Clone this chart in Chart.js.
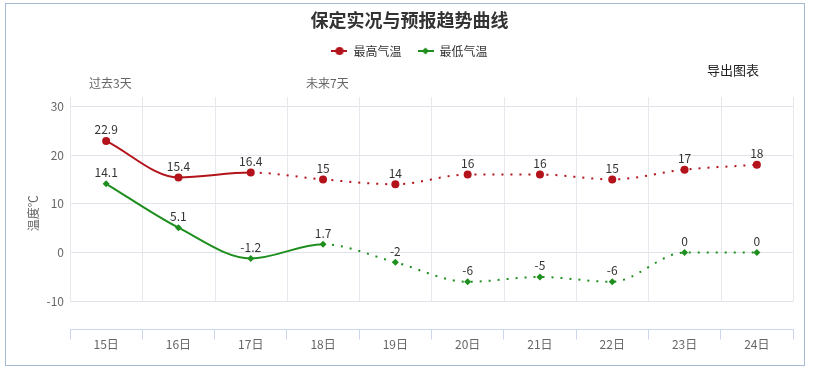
<!DOCTYPE html>
<html>
<head>
<meta charset="utf-8">
<script src="https://cdn.jsdelivr.net/npm/chart.js@4"></script>
<style>
  body { margin: 0; background: #fff; font-family: "Noto Sans CJK SC", "Liberation Sans", sans-serif; }
  #wrap { position: relative; width: 813px; height: 369px; }
  #frame { position: absolute; left: 5px; top: 3px; width: 798px; height: 361px; border: 1px solid #a3bad2; pointer-events: none; }
  .note { position: absolute; line-height: 1; white-space: nowrap; }
  #export { left: 707px; top: 63px; font-size: 13px; color: #222; }
  #past { left: 89px; top: 77px; font-size: 12px; color: #666; }
  #future { left: 306px; top: 77px; font-size: 12px; color: #666; }
</style>
</head>
<body>
<div id="wrap">
  <canvas id="tempChart" width="813" height="369"></canvas>
  <div id="frame"></div>
  <span class="note" id="export">导出图表</span>
  <span class="note" id="past">过去3天</span>
  <span class="note" id="future">未来7天</span>
</div>
<script>
// chart data
const days = ['15日', '16日', '17日', '18日', '19日', '20日', '21日', '22日', '23日', '24日'];
const highTemps = [22.9, 15.4, 16.4, 15, 14, 16, 16, 15, 17, 18];
const lowTemps = [14.1, 5.1, -1.2, 1.7, -2, -6, -5, -6, 0, 0];
const yTicks = [-10, 0, 10, 20, 30];

// last observed index for each series (dotted after that = forecast)
const highLastObserved = 2;
const lowLastObserved = 3;

const RED = '#b3141b';
const GREEN = '#1e8f1e';
const FONT = '"Noto Sans CJK SC", "Liberation Sans", sans-serif';

Chart.defaults.font.family = FONT;

// small line+marker images for the legend
function legendMarker(color, shape) {
  const c = document.createElement('canvas');
  c.width = 16;
  c.height = 10;
  const g = c.getContext('2d');
  g.strokeStyle = color;
  g.fillStyle = color;
  g.lineWidth = 2;
  g.beginPath();
  g.moveTo(0, 5);
  g.lineTo(16, 5);
  g.stroke();
  g.beginPath();
  if (shape === 'circle') {
    g.arc(8, 5, 4, 0, Math.PI * 2);
  } else {
    g.moveTo(8, 1.5); g.lineTo(11.5, 5); g.lineTo(8, 8.5); g.lineTo(4.5, 5); g.closePath();
  }
  g.fill();
  return c;
}

const dotted = idx => ctx => ctx.p0DataIndex >= idx ? [2, 7] : undefined;

// vertical grid lines between categories, down to -10 only
const columnLines = {
  id: 'columnLines',
  beforeDatasetsDraw(chart) {
    const { ctx, chartArea, scales: { x, y } } = chart;
    const step = x.getPixelForValue(1) - x.getPixelForValue(0);
    const bottom = y.getPixelForValue(yTicks[0]);
    ctx.save();
    ctx.strokeStyle = '#e6e8ee';
    ctx.lineWidth = 1;
    for (let i = 0; i <= days.length; i++) {
      const px = Math.round(x.getPixelForValue(0) - step / 2 + i * step) + 0.5;
      ctx.beginPath();
      ctx.moveTo(px, chartArea.top);
      ctx.lineTo(px, bottom);
      ctx.stroke();
    }
    ctx.restore();
  }
};

// value labels above each point
const valueLabels = {
  id: 'valueLabels',
  afterDatasetsDraw(chart) {
    const { ctx } = chart;
    ctx.save();
    ctx.font = '12px ' + FONT;
    ctx.fillStyle = '#333';
    ctx.textAlign = 'center';
    ctx.textBaseline = 'middle';
    chart.data.datasets.forEach((ds, di) => {
      chart.getDatasetMeta(di).data.forEach((pt, i) => {
        ctx.fillText(String(ds.data[i]), pt.x, pt.y - 11);
      });
    });
    ctx.restore();
  }
};

// make the legend box taller so the plot starts lower
const legendGap = {
  id: 'legendGap',
  afterInit(chart) {
    const lg = chart.legend;
    if (!lg) return;
    const fit = lg.fit;
    lg.fit = function () {
      fit.call(this);
      this.height = 68;
    };
  }
};

new Chart(document.getElementById('tempChart'), {
  type: 'line',
  data: {
    labels: days,
    datasets: [
      {
        label: '最高气温',
        data: highTemps,
        borderColor: RED,
        backgroundColor: RED,
        borderWidth: 2,
        cubicInterpolationMode: 'monotone',
        pointStyle: 'circle',
        pointRadius: 4,
        pointBorderWidth: 0,
        segment: { borderDash: dotted(highLastObserved) }
      },
      {
        label: '最低气温',
        data: lowTemps,
        borderColor: GREEN,
        backgroundColor: GREEN,
        borderWidth: 2,
        cubicInterpolationMode: 'monotone',
        pointStyle: 'rectRot',
        pointRadius: 3.5,
        pointBorderWidth: 0,
        segment: { borderDash: dotted(lowLastObserved) }
      }
    ]
  },
  options: {
    responsive: false,
    animation: false,
    layout: { padding: { left: 26, right: 20, top: 0, bottom: 19 } },
    plugins: {
      title: {
        display: true,
        text: '保定实况与预报趋势曲线',
        color: '#333',
        font: { size: 18, weight: 'bold', lineHeight: 1 },
        padding: { top: 11, bottom: 0 }
      },
      legend: {
        display: true,
        labels: {
          color: '#333',
          font: { size: 12 },
          usePointStyle: true,
          pointStyleWidth: 16,
          padding: 16,
          generateLabels(chart) {
            return chart.data.datasets.map((ds, i) => ({
              text: ds.label,
              pointStyle: legendMarker(ds.borderColor, i === 0 ? 'circle' : 'diamond'),
              fontColor: '#333',
              hidden: false,
              lineWidth: 0,
              datasetIndex: i
            }));
          }
        }
      },
      tooltip: { enabled: false }
    },
    scales: {
      x: {
        offset: true,
        grid: {
          offset: true,
          drawOnChartArea: false,
          drawTicks: true,
          tickLength: 10,
          color: '#ccd6eb'
        },
        border: { display: true, color: '#ccd6eb' },
        ticks: { color: '#666', font: { size: 12 }, padding: -2 }
      },
      y: {
        min: -15.8,
        max: 31.9,
        afterBuildTicks(scale) {
          scale.ticks = yTicks.map(v => ({ value: v }));
        },
        afterFit(scale) {
          scale.width = 44;
        },
        grid: { color: '#e0e3ea', drawTicks: false },
        border: { display: false },
        ticks: { color: '#666', font: { size: 12 }, padding: 6 },
        title: {
          display: true,
          text: '温度℃',
          color: '#666',
          font: { size: 12 },
          padding: 0
        }
      }
    }
  },
  plugins: [columnLines, valueLabels, legendGap]
});
</script>
</body>
</html>
